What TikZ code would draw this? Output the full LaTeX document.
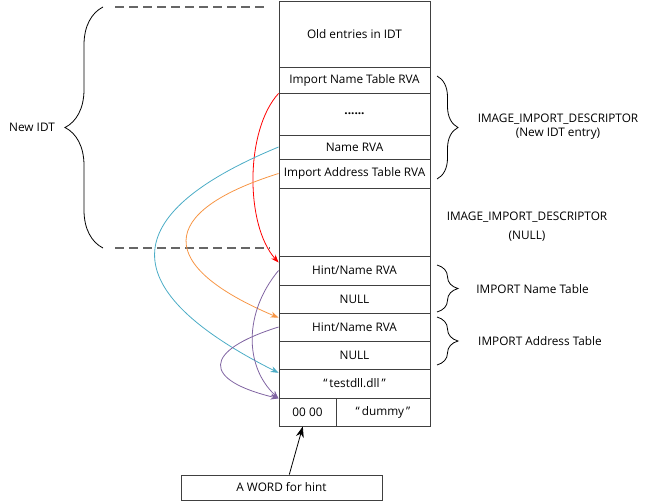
\documentclass[tikz,border=0pt]{standalone}
\usepackage{fontspec}
\setmainfont{Open Sans}
\usetikzlibrary{arrows.meta,decorations.pathreplacing}
\definecolor{ptrred}{RGB}{255,0,0}
\definecolor{ptrblue}{RGB}{75,172,198}
\definecolor{ptrorange}{RGB}{247,150,70}
\definecolor{ptrpurple}{RGB}{128,100,162}
\newcommand{\colx}{354.5}
\newcommand{\slot}[4]{
	\node [slot, minimum height=#3pt] (#1) at (\colx,#2) {#4};
	}
\begin{document}
\begin{tikzpicture}[
      x=1pt, y=-1pt, %one unit is one pixel of the layout
      font=\fontsize{11.8}{14}\selectfont,
      slot/.style={draw=black!75, line width=0.9pt, minimum width=151pt, inner sep=0pt},
      gapline/.style={draw=black!60, line width=1.2pt, dash pattern=on 9pt off 5pt},
      bracedec/.style={decorate, decoration={brace, amplitude=#1}, line width=0.8pt},
      ptr/.style={line width=0.8pt, ->, >={Stealth[length=8pt,width=6pt]}},
      hintarrow/.style={line width=0.8pt, ->, >={Stealth[length=11pt,width=8pt]}}
    ]
    \useasboundingbox (0,0) rectangle (652,503);
    % The IDT column and the tables behind it
    \slot{old}{34}{66}{Old entries in IDT};
    \slot{intrva}{80}{26}{Import Name Table RVA};
    \slot{dots}{114}{42}{\textbf{......}};
    \slot{namerva}{147}{24}{Name RVA};
    \slot{iatrva}{173.5}{29}{Import Address Table RVA};
    \slot{nulldesc}{222}{68}{};
    \slot{hint1}{270.5}{29}{Hint/Name RVA};
    \slot{null1}{299}{28}{NULL};
    \slot{hint2}{327}{28}{Hint/Name RVA};
    \slot{null2}{355}{28}{NULL};
    \slot{dllname}{383.5}{29}{“\,testdll.dll\,”};
    \node[slot, minimum width=57pt, minimum height=28pt] (hintword) at (307.5,412) {00 00};
    \node[slot, minimum width=94pt, minimum height=28pt] (dummy) at (383,412) {“\,dummy\,”};
    \node[slot, minimum width=201pt, minimum height=25pt] (wordbox) at (281.5,487.5) {A WORD for hint};
    % New IDT on the left
    \draw[gapline] (115,7) -- (268,7);
    \draw[gapline] (115,248) -- (270,248);
    \draw[bracedec=38pt] (103,248) -- (103,7);
    \node (newidt) at (32,127) {New IDT};
    % Labels on the right
    \draw[bracedec=21pt] (437,76) -- (437,179);
    \draw[bracedec=21pt] (437,265) -- (437,312);
    \draw[bracedec=21pt] (437,317) -- (437,365);
    \node[align=center] (desclbl) at (558,127) {IMAGE\_IMPORT\_DESCRIPTOR\\(New IDT entry)};
    \node[align=center] (nulllbl) at (527,227) {IMAGE\_IMPORT\_DESCRIPTOR\\[5pt](NULL)};
    \node (intlbl) at (532.5,289) {IMPORT Name Table};
    \node (iatlbl) at (540,341) {IMPORT Address Table};
    % Pointers
    \draw[ptr, ptrred] (intrva.south west) .. controls (245,130) and (245,225) .. (hint1.174);
    \draw[ptr, ptrblue] (namerva.west) .. controls (114,215) and (114,290) .. (dllname.172);
    \draw[ptr, ptrorange] (iatrva.west) .. controls (156,212) and (156,266) .. (hint2.173);
    \draw[ptr, ptrpurple] (hint1.west) .. controls (244,312) and (244,366) .. (dllname.south west);
    \draw[ptr, ptrpurple] (hint2.west) .. controls (202,351) and (202,380) .. (dllname.south west);
    \draw[hintarrow] (wordbox.59) -- (hintword.-108);
\end{tikzpicture}
\end{document}
